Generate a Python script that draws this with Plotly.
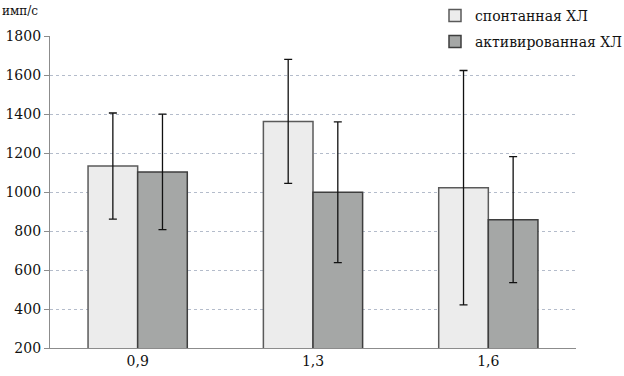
import plotly.graph_objects as go

categories = ["0,9", "1,3", "1,6"]
spont = [1133, 1362, 1022]
spont_err = [272, 318, 601]
activ = [1103, 999, 858]
activ_err = [296, 361, 323]
y_ticks = [200, 400, 600, 800, 1000, 1200, 1400, 1600, 1800]

FONT = "'DejaVu Serif', serif"

W, H = 624, 376
ML, MR, MT, MB = 50, 48, 36, 28
pw = W - ML - MR
ph = H - MT - MB


def px_x(px):
    return (px - ML) / pw


def px_y(py):
    return (H - MB - py) / ph


def cy(py):
    return 1 - py / H


fig = go.Figure()
fig.add_trace(go.Bar(
    x=categories, y=spont, name="спонтанная ХЛ",
    marker=dict(color="#ececec", line=dict(color="#5a5a5a", width=1.5)),
    error_y=dict(type="data", array=spont_err, color="#111111", thickness=1.3, width=4),
    legend="legend",
))
fig.add_trace(go.Bar(
    x=categories, y=activ, name="активированная ХЛ",
    marker=dict(color="#a5a7a6", line=dict(color="#3e3e3e", width=1.5)),
    error_y=dict(type="data", array=activ_err, color="#111111", thickness=1.3, width=4),
    legend="legend2",
))

fig.update_layout(
    width=W, height=H,
    margin=dict(l=ML, r=MR, t=MT, b=MB, autoexpand=False),
    paper_bgcolor="white", plot_bgcolor="white",
    barmode="group", bargap=0.434, bargroupgap=0,
    font=dict(family=FONT, size=14, color="#111111"),
    showlegend=True,
    legend=dict(x=px_x(435), y=cy(0), yref="container", xanchor="left", yanchor="top",
                font=dict(family=FONT, size=14, color="#111111"), bgcolor="rgba(0,0,0,0)"),
    legend2=dict(x=px_x(435), y=cy(26), yref="container", xanchor="left", yanchor="top",
                 font=dict(family=FONT, size=14, color="#111111"), bgcolor="rgba(0,0,0,0)"),
    annotations=[dict(text="имп/с", x=px_x(0), xref="paper", xanchor="left",
                      y=px_y(2), yref="paper", yanchor="top", showarrow=False,
                      font=dict(family=FONT, size=12, color="#111111"))],
)
fig.update_xaxes(showline=True, linecolor="#8c8c8c", linewidth=1.2, ticks="",
                 automargin=False, tickfont=dict(family=FONT, size=14))
fig.update_yaxes(range=[200, 1800], tickvals=y_ticks, showgrid=True, gridcolor="#b4bccb",
                 griddash="dot", gridwidth=1, showline=True, linecolor="#8c8c8c", linewidth=1.2,
                 ticks="outside", ticklen=5, tickcolor="#8c8c8c", zeroline=False,
                 automargin=False, tickfont=dict(family=FONT, size=14))

fig.write_html("out.html", config={"displayModeBar": False},
               post_script="document.body.style.margin='0px';")
